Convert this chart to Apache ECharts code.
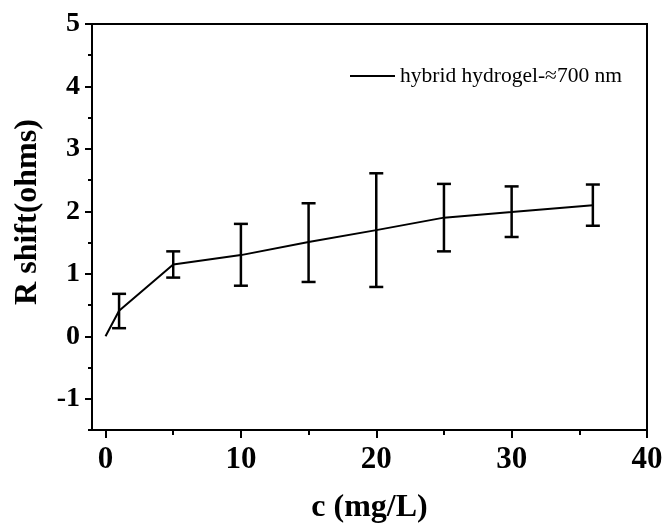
<!DOCTYPE html>
<html>
<head>
<meta charset="utf-8">
<script src="https://cdn.jsdelivr.net/npm/echarts@6/dist/echarts.min.js"></script>
<style>
  html, body { margin: 0; padding: 0; background: #fff; }
  #chart { width: 670px; height: 528px; }
</style>
</head>
<body>
<div id="chart"></div>
<script>
// concentration (mg/L) and resistance shift (ohms)
var conc = [0, 1, 5, 10, 15, 20, 25, 30, 36];
var shift = [0, 0.41, 1.15, 1.30, 1.51, 1.70, 1.90, 1.99, 2.10];
// error bar bounds (none at the origin)
var errLow = [null, 0.13, 0.94, 0.81, 0.87, 0.79, 1.36, 1.59, 1.77];
var errHigh = [null, 0.68, 1.36, 1.80, 2.13, 2.61, 2.44, 2.40, 2.43];

var xMajor = [0, 10, 20, 30, 40];
var xMinor = [5, 15, 25, 35];
var yMajor = [-1, 0, 1, 2, 3, 4, 5];
var yMinor = [-1.5, -0.5, 0.5, 1.5, 2.5, 3.5, 4.5];

var seriesName = "hybrid hydrogel-\u2248700 nm";

var lineData = conc.map(function (c, i) { return [c, shift[i]]; });
var errData = [];
conc.forEach(function (c, i) {
  if (errLow[i] != null) errData.push([c, errLow[i], errHigh[i]]);
});

var serif = "'Liberation Serif', 'Times New Roman', serif";
var black = "#000";

// tick-only axis (no line, no labels)
function tickAxis(min, max, pos, values, len) {
  return {
    type: "value", min: min, max: max, position: pos,
    splitLine: { show: false },
    axisLine: { show: false, onZero: false },
    axisLabel: { show: false },
    axisTick: { show: true, customValues: values, length: len, lineStyle: { color: black, width: 2 } }
  };
}

var chart = echarts.init(document.getElementById("chart"));
chart.setOption({
  animation: false,
  backgroundColor: "#fff",
  grid: {
    left: 92, right: 23, top: 24, bottom: 98,
    outerBoundsMode: "none",
    containLabel: false,
    show: true, borderColor: black, borderWidth: 2
  },
  legend: {
    left: 345, top: 60,
    icon: "rect",
    itemWidth: 45, itemHeight: 2,
    textStyle: { fontFamily: serif, fontSize: 21.5, color: black },
    data: [seriesName]
  },
  xAxis: [
    {
      type: "value", min: -1, max: 40,
      name: "c (mg/L)", nameLocation: "middle", nameGap: 62,
      nameTextStyle: { fontFamily: serif, fontWeight: "bold", fontSize: 32, color: black },
      splitLine: { show: false },
      axisLine: { onZero: false, lineStyle: { color: black, width: 2 } },
      axisTick: { show: false },
      axisLabel: { customValues: xMajor, margin: 14, fontFamily: serif, fontWeight: "bold", fontSize: 31, color: black }
    },
    tickAxis(-1, 40, "bottom", xMajor, 8),
    tickAxis(-1, 40, "bottom", xMinor, 5)
  ],
  yAxis: [
    {
      type: "value", min: -1.5, max: 5,
      name: "R shift(ohms)", nameLocation: "middle", nameGap: 48,
      nameTextStyle: { fontFamily: serif, fontWeight: "bold", fontSize: 32, color: black, padding: [0, 0, 0, 30] },
      splitLine: { show: false },
      axisLine: { onZero: false, lineStyle: { color: black, width: 2 } },
      axisTick: { show: false },
      axisLabel: { customValues: yMajor, margin: 12, fontFamily: serif, fontWeight: "bold", fontSize: 28, color: black }
    },
    tickAxis(-1.5, 5, "left", yMajor, 7),
    tickAxis(-1.5, 5, "left", yMinor, 4)
  ],
  series: [
    {
      name: seriesName,
      type: "line",
      data: lineData,
      symbol: "none",
      lineStyle: { color: black, width: 2 },
      itemStyle: { color: black },
      z: 3
    },
    {
      name: "error",
      type: "custom",
      data: errData,
      renderItem: function (params, api) {
        var x = api.value(0);
        var lo = api.coord([x, api.value(1)]);
        var hi = api.coord([x, api.value(2)]);
        var half = 7;
        var style = { stroke: black, lineWidth: 2.5 };
        return {
          type: "group",
          children: [
            { type: "line", shape: { x1: lo[0], y1: lo[1], x2: hi[0], y2: hi[1] }, style: style },
            { type: "line", shape: { x1: hi[0] - half, y1: hi[1], x2: hi[0] + half, y2: hi[1] }, style: style },
            { type: "line", shape: { x1: lo[0] - half, y1: lo[1], x2: lo[0] + half, y2: lo[1] }, style: style }
          ]
        };
      },
      z: 4
    }
  ]
});
</script>
</body>
</html>
